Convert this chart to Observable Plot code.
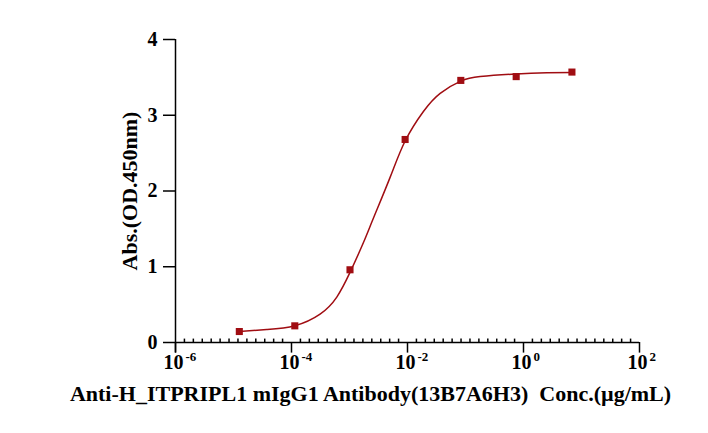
<!DOCTYPE html>
<html>
<head>
<meta charset="utf-8">
<script src="https://cdn.jsdelivr.net/npm/d3@7"></script>
<script src="https://cdn.jsdelivr.net/npm/@observablehq/plot@0.6"></script>
<style>
  html, body { margin: 0; padding: 0; background: #fff; }
</style>
</head>
<body>
<div id="chart"></div>
<script>
// Measured data points (concentration µg/mL, absorbance)
const concentrations = [1.26e-5, 1.14e-4, 1.02e-3, 9.1e-3, 0.083, 0.748, 6.84];
const absorbance = [0.145, 0.22, 0.96, 2.68, 3.46, 3.51, 3.57];

// Fitted curve
const curveConc = [1.26e-5, 3.74e-5, 1.14e-4, 3.11e-4, 6.04e-4, 1.02e-3, 1.74e-3, 2.58e-3, 5.01e-3, 9.1e-3, 0.0188, 0.0366, 0.083, 0.179, 0.748, 2.53, 6.84];
const curveAbs  = [0.145, 0.172, 0.222, 0.375, 0.60, 0.925, 1.32, 1.64, 2.18, 2.66, 3.05, 3.29, 3.45, 3.51, 3.545, 3.56, 3.565];

// Axis ticks
const xMajorTicks = [1e-6, 1e-4, 1e-2, 1, 1e2];
const xExponents = ["-6", "-4", "-2", "0", "2"];
const yTicks = [0, 1, 2, 3, 4];

const xLabel = "Anti-H_ITPRIPL1 mIgG1 Antibody(13B7A6H3)  Conc.(\u00b5g/mL)";
const yLabel = "Abs.(OD.450nm)";

const points = concentrations.map((c, i) => ({x: c, y: absorbance[i]}));
const curve = curveConc.map((c, i) => ({x: c, y: curveAbs[i]}));
const majors = xMajorTicks.map((t, i) => ({x: t, e: xExponents[i]}));

// minor ticks evenly spaced (log) between majors
const minors = [];
for (let i = 0; i < xMajorTicks.length - 1; i++) {
  const a = Math.log10(xMajorTicks[i]), b = Math.log10(xMajorTicks[i + 1]);
  const n = 13;
  for (let k = 1; k < n; k++) minors.push(Math.pow(10, a + (b - a) * k / n));
}

const red = "#a00d12";
const font = "'Liberation Serif', 'Times New Roman', serif";

const chart = Plot.plot({
  width: 708,
  height: 433,
  marginLeft: 175,
  marginRight: 69,
  marginTop: 39,
  marginBottom: 91,
  style: {fontFamily: font, fontWeight: "bold", fontSize: "20px", background: "#fff", color: "#000"},
  x: {type: "log", domain: [1e-6, 1e2], axis: null},
  y: {domain: [0, 4], axis: null},
  marks: [
    // y axis line (extends below zero)
    Plot.ruleX([1e-6], {y1: -0.14, y2: 4, stroke: "#000", strokeWidth: 1.5}),
    // x axis line
    Plot.ruleY([0], {x1: 1e-6, x2: 1e2, stroke: "#000", strokeWidth: 1.5}),
    // y ticks & labels
    Plot.axisY(yTicks, {tickSize: 12, tickPadding: 6, tickFormat: d3.format("d"), fontSize: 20, fontWeight: "bold", fontFamily: font, strokeWidth: 1.5, label: null}),
    // x major ticks
    Plot.ruleX(xMajorTicks, {y1: 0, y2: -0.14, stroke: "#000", strokeWidth: 1.5}),
    // x minor ticks (inward)
    Plot.ruleX(minors, {y1: 0, y2: 0.045, stroke: "#000", strokeWidth: 1.5}),
    // x tick labels: base "10" and exponent
    Plot.text(majors, {x: "x", y: 0, text: () => "10", dx: 8, dy: 20, textAnchor: "end", fontSize: 20, fontWeight: "bold", fontFamily: font, fill: "#000"}),
    Plot.text(majors, {x: "x", y: 0, text: "e", dx: 10, dy: 14, textAnchor: "start", fontSize: 13, fontWeight: "bold", fontFamily: font, fill: "#000"}),
    // fitted curve
    Plot.line(curve, {x: "x", y: "y", curve: "natural", stroke: red, strokeWidth: 1.5}),
    // data points
    Plot.dot(points, {x: "x", y: "y", symbol: "square", r: 4, fill: red, stroke: "none"}),
    // axis titles
    Plot.text([xLabel], {frameAnchor: "bottom", dx: -37, dy: 58, fontSize: 22, fontWeight: "bold", fontFamily: font, fill: "#000"}),
    Plot.text([yLabel], {frameAnchor: "left", dx: -46, rotate: -90, textAnchor: "middle", fontSize: 22, fontWeight: "bold", fontFamily: font, fill: "#000"})
  ]
});

document.getElementById("chart").appendChild(chart);
</script>
</body>
</html>
